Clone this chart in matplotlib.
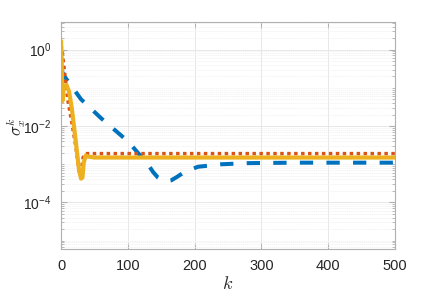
import numpy as np
import matplotlib
matplotlib.use("Agg")
import matplotlib.pyplot as plt
from matplotlib.ticker import LogLocator, NullFormatter

plt.rcParams['font.family'] = ['Liberation Sans', 'DejaVu Sans']
plt.rcParams['mathtext.fontset'] = 'cm'

# values
k_blue = [0, 5, 30, 60, 100, 130, 138, 145, 152, 158, 165, 173, 185, 205,
          240, 280, 350, 500]
s_blue = [0.3, 0.2, 0.05, 0.016, 4e-3, 1.0e-3, 6.2e-4, 4.5e-4, 3.8e-4,
          3.6e-4, 3.8e-4, 4.6e-4, 6.3e-4, 8.6e-4, 1.0e-3, 1.07e-3, 1.1e-3,
          1.1e-3]

k_red = [0, 2, 6, 10, 14, 18, 22, 26, 28, 30, 33, 36, 45, 500]
s_red = [1.3, 0.8, 0.2, 0.05, 0.02, 8e-3, 3e-3, 9e-4, 5.5e-4, 6e-4, 1.5e-3,
         1.9e-3, 1.9e-3, 1.9e-3]

k_yel = [0, 1, 2, 4, 8, 12, 16, 20, 24, 27, 30, 32, 34, 37, 40, 50, 500]
s_yel = [1.6, 0.5, 0.045, 0.1, 0.12, 0.08, 0.03, 8e-3, 2e-3, 7e-4, 4.2e-4,
         4.5e-4, 1.1e-3, 1.7e-3, 1.6e-3, 1.5e-3, 1.5e-3]

fig = plt.figure(figsize=(4.36, 2.98), dpi=100)
ax = fig.add_axes([0.14, 0.164, 0.766, 0.762])

ax.semilogy(k_blue, s_blue, color='#0072BD', lw=2.9, dashes=(3.3, 3.3))
ax.semilogy(k_red, s_red, color='#D95319', lw=2.5, dashes=(1, 1))
ax.semilogy(k_yel, s_yel, color='#EDB120', lw=3.0)

ax.set_xlim(0, 500)
ax.set_ylim(10**-5.22, 10**0.72)
ax.set_xticks([0, 100, 200, 300, 400, 500])
ax.set_yticks([1e-4, 1e-2, 1])
ax.yaxis.set_minor_locator(LogLocator(base=10, subs=np.arange(1, 10), numticks=20))
ax.yaxis.set_minor_formatter(NullFormatter())

ax.grid(True, which='major', color='#e3e3e3', lw=0.6)
ax.grid(True, which='minor', axis='y', color='#f0f0f0', lw=0.5, ls=(0, (2, 1)))
ax.set_axisbelow(True)

for sp in ax.spines.values():
    sp.set_color('#b0b0b0')
    sp.set_linewidth(0.8)
ax.tick_params(which='both', direction='in', top=True, right=True,
               color='#b0b0b0', labelcolor='#262626', labelsize=10.5)
ax.tick_params(axis='y', labelsize=10)
ax.tick_params(which='major', length=4)
ax.tick_params(which='minor', length=2)
ax.tick_params(axis='x', pad=7)
ax.tick_params(axis='y', pad=7)

ax.set_xlabel('$k$', fontsize=13, color='#262626', labelpad=2)
ax.set_ylabel('$\\sigma_x^k$', fontsize=12, color='#262626')
ax.yaxis.set_label_coords(-0.1, 0.54)

fig.savefig('out.png', dpi=100)
